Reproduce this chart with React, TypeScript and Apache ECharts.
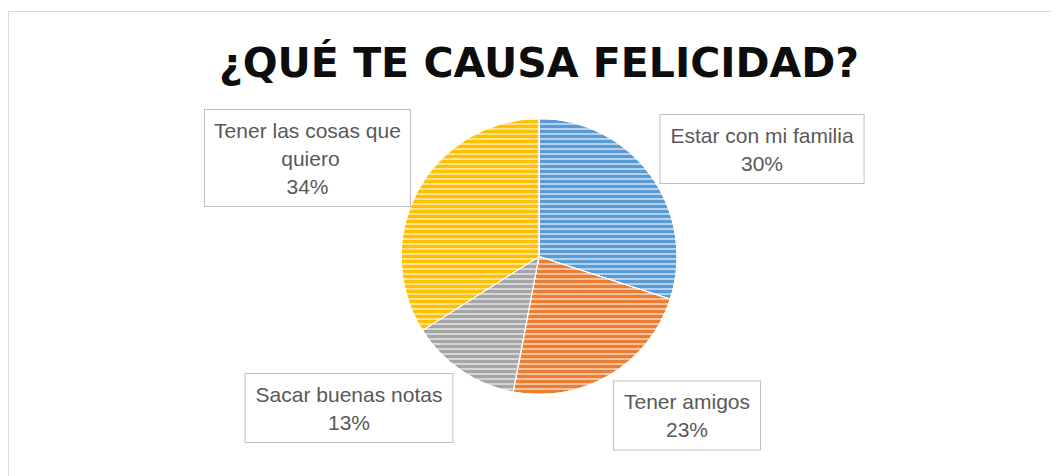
import React, { useEffect, useRef } from "react";
import * as echarts from "echarts";

const categories = ["Estar con mi familia", "Tener amigos", "Sacar buenas notas", "Tener las cosas que quiero"];
const values = [30, 23, 13, 34];
const colors = ["#5B9BD5", "#ED7D31", "#A5A5A5", "#FFC000"];
const titleText = "¿QUÉ TE CAUSA FELICIDAD?";
// label box centres (chart pixel space)
const labelCenters = [
  [754, 141],
  [679, 407.5],
  [341, 400],
  [299.5, 150],
];

export default function App() {
  const ref = useRef<HTMLDivElement>(null);
  useEffect(() => {
    if (!ref.current) return;
    const chart = echarts.init(ref.current, null, { renderer: "svg" });
    chart.setOption({
      animation: false,
      backgroundColor: "#ffffff",
      graphic: [
        {
          type: "rect",
          shape: { x: 0.5, y: 3.5, width: 1300, height: 700 },
          style: { fill: "none", stroke: "#d9d9d9", lineWidth: 1 },
          silent: true,
        },
        {
          type: "text",
          x: 531,
          y: 55,
          style: {
            text: titleText,
            align: "center",
            verticalAlign: "middle",
            font: "bold 41px 'DejaVu Sans', sans-serif",
            fill: "#0d0d0d",
          },
        },
      ],
      series: [
        {
          type: "pie",
          center: [531, 248.5],
          radius: 138,
          startAngle: 90,
          clockwise: true,
          percentPrecision: 0,
          itemStyle: { borderColor: "#ffffff", borderWidth: 1 },
          labelLine: { show: false },
          label: {
            show: true,
            position: "center",
            formatter: "{b}\n{d}%",
            fontFamily: "'Liberation Sans', sans-serif",
            fontSize: 21,
            lineHeight: 28,
            color: "#595959",
            align: "center",
            backgroundColor: "#ffffff",
            borderColor: "#bfbfbf",
            borderWidth: 1,
            padding: [6, 10],
          },
          labelLayout: (params: any) => {
            const c = labelCenters[params.dataIndex];
            return { x: c[0], y: c[1], align: "center", verticalAlign: "middle" };
          },
          emphasis: { disabled: true },
          data: categories.map((name, i) => ({
            name,
            value: values[i],
            itemStyle: {
              color: colors[i],
              decal: {
                symbol: "rect",
                symbolSize: 1,
                dashArrayX: [1, 0],
                dashArrayY: [1.2, 2.1],
                rotation: 0,
                color: "rgba(255,255,255,0.55)",
              },
            },
            label: i === 3 ? { width: 191, overflow: "break", padding: [6, 7] } : {},
          })),
        },
      ],
    });
    return () => chart.dispose();
  }, []);
  return <div ref={ref} style={{ width: 1051, height: 468 }} />;
}
